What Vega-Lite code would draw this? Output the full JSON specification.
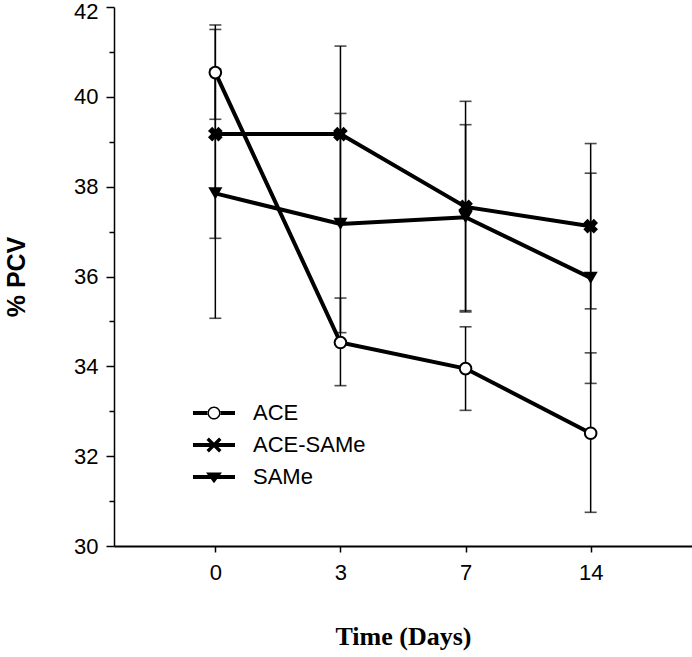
{
  "$schema": "https://vega.github.io/schema/vega-lite/v6.json",
  "width": 578,
  "height": 539,
  "autosize": "none",
  "padding": {"left": 114, "top": 7, "right": 0, "bottom": 111},
  "background": "white",
  "config": {
    "view": {"stroke": null},
    "axis": {"domainColor": "black", "tickColor": "black", "labelColor": "black", "titleColor": "black", "grid": false}
  },
  "data": {
    "values": [
      {"day": 0, "series": "ACE", "mean": 40.54, "lo": 39.50, "hi": 41.60},
      {"day": 3, "series": "ACE", "mean": 34.53, "lo": 33.57, "hi": 35.52},
      {"day": 7, "series": "ACE", "mean": 33.95, "lo": 33.02, "hi": 34.88},
      {"day": 14, "series": "ACE", "mean": 32.51, "lo": 30.75, "hi": 34.30},
      {"day": 0, "series": "ACE-SAMe", "mean": 39.17, "lo": 36.85, "hi": 41.50},
      {"day": 3, "series": "ACE-SAMe", "mean": 39.17, "lo": 37.21, "hi": 41.13},
      {"day": 7, "series": "ACE-SAMe", "mean": 37.55, "lo": 35.21, "hi": 39.90},
      {"day": 14, "series": "ACE-SAMe", "mean": 37.12, "lo": 35.28, "hi": 38.96},
      {"day": 0, "series": "SAMe", "mean": 37.85, "lo": 35.07, "hi": 40.62},
      {"day": 3, "series": "SAMe", "mean": 37.17, "lo": 34.75, "hi": 39.63},
      {"day": 7, "series": "SAMe", "mean": 37.32, "lo": 35.24, "hi": 39.38},
      {"day": 14, "series": "SAMe", "mean": 35.97, "lo": 33.62, "hi": 38.30}
    ]
  },
  "encoding": {
    "x": {
      "field": "day",
      "type": "ordinal",
      "scale": {"type": "point", "padding": 0.81},
      "axis": {
        "title": "Time (Days)",
        "titleFont": "Liberation Serif",
        "titleFontSize": 26,
        "titleFontWeight": "bold",
        "titlePadding": 40,
        "labelFont": "Liberation Sans",
        "labelFontSize": 22,
        "labelPadding": 10,
        "labelAngle": 0,
        "tickSize": 6,
        "tickWidth": 1.5,
        "domainWidth": 2
      }
    },
    "y": {
      "field": "mean",
      "type": "quantitative",
      "title": "% PCV",
      "scale": {"domain": [30, 42], "nice": false, "zero": false},
      "axis": {
        "title": "% PCV",
        "titleFont": "Liberation Sans",
        "titleFontSize": 25,
        "titleFontWeight": "bold",
        "titlePadding": 44,
        "labelFont": "Liberation Sans",
        "labelFontSize": 22,
        "labelPadding": 8,
        "values": [30, 31, 32, 33, 34, 35, 36, 37, 38, 39, 40, 41, 42],
        "labelExpr": "datum.value % 2 == 0 ? datum.label : ''",
        "labelOffset": {"condition": {"test": "datum.value == 42", "value": 4}, "value": 0},
        "tickSize": {"condition": {"test": "datum.value % 2 == 0", "value": 8}, "value": 5},
        "tickWidth": 1.5,
        "domainWidth": 1.5
      }
    }
  },
  "layer": [
    {
      "mark": {"type": "rule", "color": "black", "strokeWidth": 1.5},
      "encoding": {
        "y": {"field": "lo", "type": "quantitative", "title": "% PCV"},
        "y2": {"field": "hi"}
      }
    },
    {
      "mark": {"type": "tick", "color": "black", "size": 12, "thickness": 1.6},
      "encoding": {"y": {"field": "lo", "type": "quantitative", "title": "% PCV"}}
    },
    {
      "mark": {"type": "tick", "color": "black", "size": 12, "thickness": 1.6},
      "encoding": {"y": {"field": "hi", "type": "quantitative", "title": "% PCV"}}
    },
    {
      "mark": {"type": "line", "color": "black", "strokeWidth": 4},
      "encoding": {
        "detail": {"field": "series"}
      }
    },
    {
      "transform": [{"filter": {"field": "series", "equal": "ACE"}}],
      "mark": {"type": "point", "shape": "circle", "filled": true, "fill": "white", "stroke": "black", "strokeWidth": 2, "size": 135, "opacity": 1}
    },
    {
      "transform": [{"filter": {"field": "series", "equal": "ACE-SAMe"}}],
      "mark": {"type": "point", "shape": "cross", "angle": 45, "filled": true, "color": "black", "size": 220, "opacity": 1}
    },
    {
      "transform": [{"filter": {"field": "series", "equal": "SAMe"}}],
      "mark": {"type": "point", "shape": "triangle-down", "filled": true, "color": "black", "size": 200, "opacity": 1}
    },
    {
      "transform": [{"filter": {"field": "series", "equal": "__none__"}}],
      "mark": {"type": "point", "filled": true, "color": "black", "strokeWidth": 0, "opacity": 1},
      "encoding": {
        "shape": {
          "field": "series",
          "type": "nominal",
          "scale": {
            "domain": ["ACE", "ACE-SAMe", "SAMe"],
            "range": [
              "M-1,-0.095H-0.29V0.095H-1Z M0.29,-0.095H1V0.095H0.29Z M0.31,0A0.31,0.31,0,1,0,-0.31,0A0.31,0.31,0,1,0,0.31,0Z M0.24,0A0.24,0.24,0,1,1,-0.24,0A0.24,0.24,0,1,1,0.24,0Z",
              "M-1,-0.095H1V0.095H-1Z M-0.243,-0.357L0.357,0.243L0.243,0.357L-0.357,-0.243Z M-0.357,0.243L0.243,-0.357L0.357,-0.243L-0.243,0.357Z",
              "M-1,-0.095H1V0.095H-1Z M-0.38,-0.22L0.38,-0.22L0,0.3Z"
            ]
          },
          "legend": {
            "title": null,
            "orient": "none",
            "legendX": 79,
            "legendY": 385,
            "padding": 0,
            "symbolSize": 1764,
            "symbolFillColor": "black",
            "symbolStrokeWidth": 0,
            "symbolOpacity": 1,
            "labelFont": "Liberation Sans",
            "labelFontSize": 22,
            "labelColor": "black",
            "labelOffset": 18,
            "rowPadding": -10
          }
        }
      }
    }
  ],
  "resolve": {"scale": {"shape": "independent"}}
}
